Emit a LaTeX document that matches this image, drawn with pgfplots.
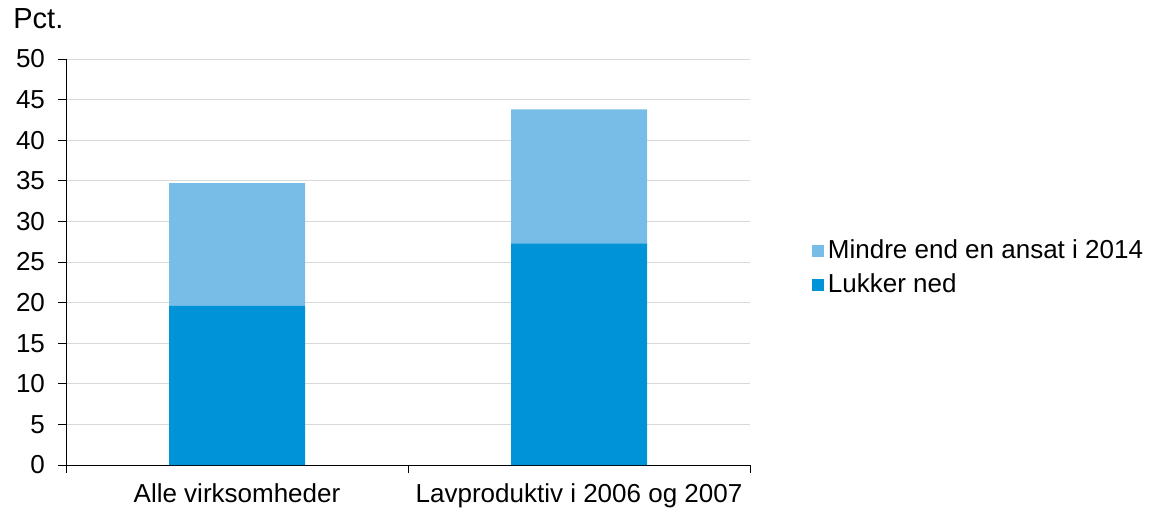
\documentclass[border=0pt]{standalone}
\usepackage{pgfplots}
\pgfplotsset{compat=1.18}
\usepackage{fontspec}
\setmainfont{Liberation Sans}
\definecolor{lightb}{HTML}{78BDE8}
\definecolor{darkb}{HTML}{0093D7}
\definecolor{gridc}{HTML}{D9D9D9}
\begin{document}
\fontsize{13}{15}\selectfont
\begin{tikzpicture}
\useasboundingbox (-33pt,-21.5pt) rectangle (541.5pt,232.5pt);
\begin{axis}[
  scale only axis,
  width=342pt, height=203pt,
  at={(0,0)}, anchor=south west,
  ybar stacked,
  bar width=68pt,
  xmin=-0.5, xmax=1.5,
  ymin=0, ymax=50,
  ytick={0,5,...,50},
  xtick={0,1},
  xticklabels={Alle virksomheder, Lavproduktiv i 2006 og 2007},
  minor xtick={-0.5,0.5,1.5},
  major x tick style={draw=none},
  minor x tick style={draw=black, thin},
  y tick style={draw=black, thin},
  tick align=outside,
  major tick length=4pt,
  minor tick length=4pt,
  axis x line*=bottom,
  axis y line*=left,
  axis line style={-, black, thin},
  ymajorgrids,
  grid style={gridc, thin},
  font=\fontsize{13}{15}\selectfont,
  tick label style={font=\fontsize{13}{15}\selectfont},
  /pgf/number format/assume math mode=true,
  yticklabel style={xshift=-2pt},
  xticklabel style={yshift=-1pt},
  reverse legend,
  legend style={draw=none, at={(1.09,0.485)}, anchor=west,
    font=\fontsize{13}{15}\selectfont, row sep=2pt, inner sep=0pt,
    legend cell align=left, fill=none},
  legend image code/.code={\fill[#1] (0pt,-3pt) rectangle (6pt,3pt);},
  clip=false,
]
\addplot[fill=darkb, draw=none] coordinates {(0,19.6) (1,27.3)};
\addplot[fill=lightb, draw=none] coordinates {(0,15.1) (1,16.5)};
\legend{Lukker ned, Mindre end en ansat i 2014}
\node[anchor=base west, inner sep=0pt, font=\fontsize{14.5}{17}\selectfont] at ([xshift=-26.5pt, yshift=15.5pt]rel axis cs:0,1) {Pct.};
\end{axis}
\end{tikzpicture}
\end{document}
